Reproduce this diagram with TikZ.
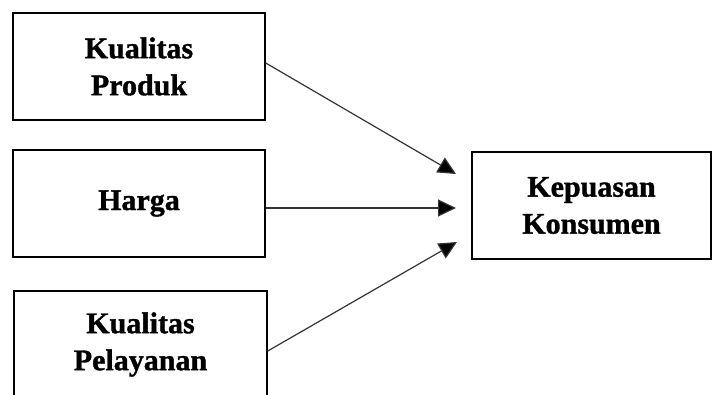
\documentclass[tikz,border=0pt]{standalone}
\usepackage{fontspec}
\setmainfont{Liberation Serif}
\newfontfamily\boxfont{Liberation Serif Bold}[FakeBold=1.2]
\usetikzlibrary{arrows.meta}
\begin{document}
\begin{tikzpicture}[x=1pt,y=-1pt,
  box/.style={draw=black, line width=1.5pt, inner sep=0pt, align=center,
    minimum height=107pt, font=\boxfont\fontsize{30}{37}\selectfont},
  conn/.style={draw=black!80, line width=1.2pt, -{Triangle[length=18pt,width=17pt,fill=black]}}]
\useasboundingbox (0,0) rectangle (712,394);
\clip (0,0) rectangle (712,394);
\node[box, minimum width=252pt] (kp) at (139,66.5) {Kualitas\\Produk};
\node[box, minimum width=252pt] (hg) at (139,203.5) {Harga};
\node[box, minimum width=253pt] (kl) at (140.5,344.5) {Kualitas\\Pelayanan};
\node[box, minimum width=239pt] (ks) at (591.5,205.5) {Kepuasan\\Konsumen};
\coordinate (tA) at (456,174);
\coordinate (tB) at (456,208);
\coordinate (tC) at (457,242);
\draw[conn] ([yshift=3.5pt]kp.east) -- (tA);
\draw[conn] ([yshift=-4.5pt]hg.east) -- (tB);
\draw[conn] ([yshift=-6.5pt]kl.east) -- (tC);
\end{tikzpicture}
\end{document}
